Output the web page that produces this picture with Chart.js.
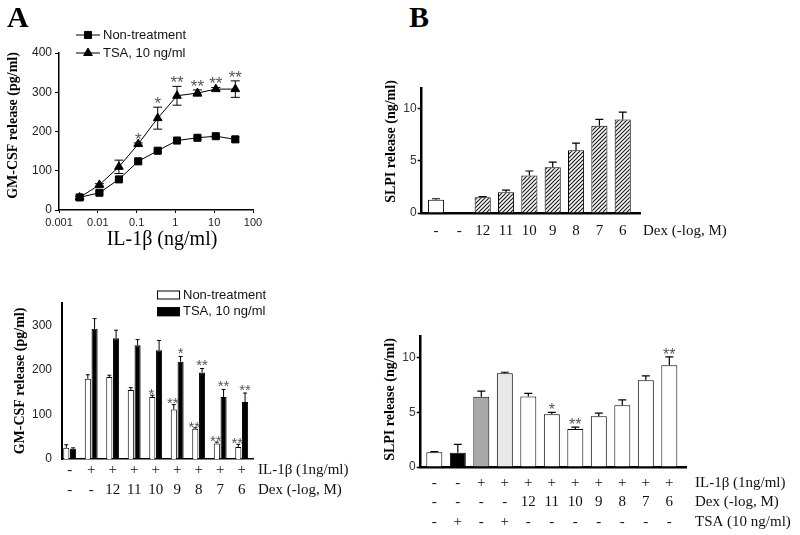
<!DOCTYPE html>
<html><head><meta charset="utf-8">
<script src="https://cdn.jsdelivr.net/npm/chart.js@4.4.1/dist/chart.umd.min.js"></script>
<style>
html,body{margin:0;padding:0;background:#fff;}
#wrap{position:relative;width:800px;height:535px;overflow:hidden;background:#fff;}
canvas{position:absolute;}
.letter{position:absolute;font-family:"Liberation Serif","Times New Roman",serif;font-weight:bold;font-size:30px;line-height:1;color:#000;}
</style></head><body>
<div id="wrap">
<canvas id="c1" width="275" height="255" style="left:0px;top:0px"></canvas>
<canvas id="c2" width="370" height="230" style="left:0px;top:280px"></canvas>
<canvas id="c3" width="365" height="190" style="left:375px;top:60px"></canvas>
<canvas id="c4" width="425" height="225" style="left:375px;top:310px"></canvas>
<div class="letter" style="left:7px;top:2px">A</div>
<div class="letter" style="left:409px;top:2px">B</div>
</div>
<script>
// ---------- DATA ----------
// Panel A (top): GM-CSF release vs IL-1β dose
const doseIL1b = [0.0034, 0.011, 0.035, 0.11, 0.35, 1.1, 3.7, 11, 35];
const doseTicks = [0.001, 0.01, 0.1, 1, 10, 100];
const gmcsfNon = [32, 44, 78, 124, 151, 177, 184, 188, 180];
const gmcsfNonErr = [3, 4, 4, 4, 3, 6, 4, 3, 6];
const gmcsfTSA = [32, 64, 110, 168, 234, 291, 298, 308, 308];
const gmcsfTSAErr = [3, 3, 17, 3, 28, 24, 8, 4, 21];
const gmcsfTSASig = ['', '', '', '*', '*', '**', '**', '**', '**'];

// Panel A (bottom): GM-CSF release, IL-1β + Dex
const rowIL1bA = ['-', '+', '+', '+', '+', '+', '+', '+', '+'];
const rowDexA = ['-', '-', '12', '11', '10', '9', '8', '7', '6'];
const gmNon = [25, 180, 184, 155, 139, 111, 68, 35, 27];
const gmNonErr = [7, 9, 4, 5, 4, 11, 2, 3, 6];
const gmNonSig = ['', '', '', '', '*', '**', '**', '**', '**'];
const gmTSA = [23, 292, 271, 255, 244, 218, 194, 139, 128];
const gmTSAErr = [2, 23, 18, 13, 22, 12, 9, 17, 20];
const gmTSASig = ['', '', '', '', '', '*', '**', '**', '**'];

// Panel B (top): SLPI release, Dex alone
const rowDexB1 = ['-', '-', '12', '11', '10', '9', '8', '7', '6'];
const slpiDex = [1.27, null, 1.52, 2.0, 3.6, 4.4, 6.03, 8.38, 8.98];
const slpiDexErr = [0.1, null, 0.05, 0.2, 0.43, 0.48, 0.67, 0.6, 0.7];

// Panel B (bottom): SLPI release, IL-1β / Dex / TSA
const rowIL1bB2 = ['-', '-', '+', '+', '+', '+', '+', '+', '+', '+', '+'];
const rowDexB2 = ['-', '-', '-', '-', '12', '11', '10', '9', '8', '7', '6'];
const rowTSAB2 = ['-', '+', '-', '+', '-', '-', '-', '-', '-', '-', '-'];
const slpiIL = [1.35, 1.3, 6.43, 8.58, 6.46, 4.83, 3.48, 4.65, 5.66, 7.94, 9.32];
const slpiILErr = [0.05, 0.77, 0.52, 0.1, 0.28, 0.18, 0.18, 0.28, 0.49, 0.4, 0.77];
const slpiILSig = ['', '', '', '', '', '*', '**', '', '', '', '**'];

// ---------- STYLE ----------
const SANS = '"Liberation Sans", Arial, sans-serif';
const SERIF = '"Liberation Serif", "Times New Roman", serif';
const slpiILColors = ['#ffffff', '#000000', '#a8a8a8', '#e8e8e8', '#ffffff', '#ffffff', '#ffffff', '#ffffff', '#ffffff', '#ffffff', '#ffffff'];
Chart.defaults.font.family = SANS;
Chart.defaults.color = '#222';
Chart.defaults.animation = false;

function hatchPattern() {
  const c = document.createElement('canvas'); c.width = 4; c.height = 4;
  const g = c.getContext('2d');
  g.fillStyle = '#fff'; g.fillRect(0, 0, 4, 4);
  g.strokeStyle = '#1a1a1a'; g.lineWidth = 1.2;
  g.beginPath();
  g.moveTo(0, 4); g.lineTo(4, 0);
  g.moveTo(-1, 1); g.lineTo(1, -1);
  g.moveTo(3, 5); g.lineTo(5, 3);
  g.stroke();
  return g.createPattern(c, 'repeat');
}
const HATCH = hatchPattern();

const yv = d => (d !== null && typeof d === 'object') ? d.y : d;

const extras = {
  id: 'extras',
  afterDatasetsDraw(chart, args, o) {
    const ctx = chart.ctx, ys = chart.scales.y;
    (o.errors || []).forEach(e => {
      const meta = chart.getDatasetMeta(e.ds), ds = chart.data.datasets[e.ds];
      ctx.save();
      ctx.strokeStyle = '#000'; ctx.lineWidth = e.lw || 1;
      meta.data.forEach((el, i) => {
        const v = yv(ds.data[i]), er = e.err[i];
        if (v == null || er == null || er <= 0) return;
        const x = el.x, top = ys.getPixelForValue(v + er);
        const base = e.both ? ys.getPixelForValue(v - er) : ys.getPixelForValue(v);
        ctx.beginPath();
        ctx.moveTo(x, base); ctx.lineTo(x, top);
        ctx.moveTo(x - e.cap / 2, top); ctx.lineTo(x + e.cap / 2, top);
        if (e.both) { ctx.moveTo(x - e.cap / 2, base); ctx.lineTo(x + e.cap / 2, base); }
        ctx.stroke();
      });
      ctx.restore();
    });
  },
  afterDraw(chart, args, o) {
    const ctx = chart.ctx, ca = chart.chartArea, xs = chart.scales.x, ys = chart.scales.y;
    ctx.save();
    (o.sig || []).forEach(s => {
      const meta = chart.getDatasetMeta(s.ds), ds = chart.data.datasets[s.ds];
      ctx.font = s.size + 'px ' + SANS; ctx.fillStyle = s.color || '#555';
      ctx.textAlign = 'center'; ctx.textBaseline = 'alphabetic';
      s.marks.forEach((m, i) => {
        if (!m) return;
        const v = yv(ds.data[i]);
        const top = ys.getPixelForValue(v + (s.err ? (s.err[i] || 0) : 0));
        ctx.fillText(m, meta.data[i].x + (s.dx || 0), top - s.gap + 0.58 * s.size);
      });
    });
    if (o.rows) {
      ctx.font = o.rows.size + 'px ' + SERIF; ctx.fillStyle = '#111'; ctx.textBaseline = 'middle';
      o.rows.items.forEach(r => {
        const y = ca.bottom + r.dy;
        ctx.textAlign = 'center';
        r.values.forEach((t, i) => ctx.fillText(t, xs.getPixelForValue(i), y));
        ctx.textAlign = 'left';
        ctx.fillText(r.label, ca.right + o.rows.labelDx, y);
      });
    }
    if (o.yTitle) {
      const t = o.yTitle;
      ctx.save();
      ctx.translate(t.x, (ca.top + ca.bottom) / 2 + (t.dy || 0));
      ctx.rotate(-Math.PI / 2);
      ctx.font = 'bold ' + t.size + 'px ' + SERIF; ctx.fillStyle = '#000';
      ctx.textAlign = 'center'; ctx.textBaseline = 'middle';
      ctx.fillText(t.text, 0, 0);
      ctx.restore();
    }
    if (o.xTitle) {
      const t = o.xTitle;
      ctx.font = t.size + 'px ' + SERIF; ctx.fillStyle = '#000';
      ctx.textAlign = 'center'; ctx.textBaseline = 'middle';
      ctx.fillText(t.text, (ca.left + ca.right) / 2 + (t.dx || 0), ca.bottom + t.dy);
    }
    if (o.legend) {
      const L = o.legend;
      chart.data.datasets.forEach((ds, i) => {
        const y = L.y + i * L.step;
        if (L.type === 'line') {
          ctx.strokeStyle = '#000'; ctx.lineWidth = 1;
          ctx.beginPath(); ctx.moveTo(L.x, y); ctx.lineTo(L.x + L.w, y); ctx.stroke();
          ctx.fillStyle = '#000';
          Chart.helpers.drawPoint(ctx, {pointStyle: ds.pointStyle, radius: ds.pointRadius, borderWidth: 1, rotation: 0}, L.x + L.w / 2, y);
        } else {
          ctx.fillStyle = ds.backgroundColor; ctx.strokeStyle = '#000'; ctx.lineWidth = 1;
          ctx.fillRect(L.x, y - L.h / 2, L.w, L.h);
          ctx.strokeRect(L.x + 0.5, y - L.h / 2 + 0.5, L.w - 1, L.h - 1);
        }
        ctx.font = L.size + 'px ' + SANS; ctx.fillStyle = '#111';
        ctx.textAlign = 'left'; ctx.textBaseline = 'middle';
        ctx.fillText(ds.label, L.x + L.w + L.gap, y);
      });
    }
    ctx.restore();
  }
};

const baseOpts = (pad) => ({
  responsive: false, animation: false,
  layout: {padding: pad},
  plugins: {legend: {display: false}, tooltip: {enabled: false}}
});
const noTickX = (min, max, h, bw) => ({
  type: 'linear', min, max, offset: false,
  afterFit: s => { s.height = h; },
  ticks: {display: false},
  grid: {display: false, drawTicks: false},
  border: {display: true, color: '#000', width: bw}
});

// ---------- Panel A top ----------
const o1 = baseOpts({left: 0, top: 53, right: 22, bottom: 0});
o1.plugins.extras = {
  errors: [{ds: 0, err: gmcsfNonErr, both: true, cap: 8}, {ds: 1, err: gmcsfTSAErr, both: true, cap: 9}],
  sig: [{ds: 1, marks: gmcsfTSASig, err: gmcsfTSAErr, gap: 8, size: 17, color: '#555'}],
  yTitle: {text: 'GM-CSF release (pg/ml)', x: 13, dy: -6, size: 14},
  xTitle: {text: 'IL-1β (ng/ml)', dx: 6, dy: 30, size: 20},
  legend: {type: 'line', x: 76, y: 35, step: 18, w: 24, gap: 3, size: 13}
};
o1.scales = {
  x: {
    type: 'logarithmic', min: 0.001, max: 100,
    afterBuildTicks: s => { s.ticks = doseTicks.map(v => ({value: v})); },
    afterFit: s => { s.height = 45; },
    ticks: {callback: v => String(v), font: {size: 11}, color: '#222', padding: 3, maxRotation: 0, autoSkip: false},
    grid: {display: true, drawOnChartArea: false, drawTicks: true, tickLength: 3, tickColor: '#000'},
    border: {color: '#000', width: 1.5}
  },
  y: {
    min: 0, max: 400,
    afterFit: s => { s.width = 59; },
    ticks: {stepSize: 100, font: {size: 12}, color: '#222', padding: 3},
    grid: {display: true, drawOnChartArea: false, drawTicks: true, tickLength: 4, tickColor: '#000'},
    border: {color: '#000', width: 1.5}
  }
};
new Chart(document.getElementById('c1'), {
  type: 'line',
  data: {datasets: [
    {label: 'Non-treatment', data: doseIL1b.map((x, i) => ({x, y: gmcsfNon[i]})),
     borderColor: '#000', backgroundColor: '#000', borderWidth: 1, pointStyle: 'rect', pointRadius: 5, pointBorderWidth: 1, tension: 0},
    {label: 'TSA, 10 ng/ml', data: doseIL1b.map((x, i) => ({x, y: gmcsfTSA[i]})),
     borderColor: '#000', backgroundColor: '#000', borderWidth: 1, pointStyle: 'triangle', pointRadius: 5, pointBorderWidth: 1, tension: 0}
  ]},
  options: o1,
  plugins: [extras]
});

// ---------- Panel A bottom ----------
const o2 = baseOpts({left: 0, top: 23, right: 117, bottom: 51});
o2.datasets = {bar: {categoryPercentage: 0.63, barPercentage: 0.9}};
o2.plugins.extras = {
  errors: [{ds: 0, err: gmNonErr, cap: 4}, {ds: 1, err: gmTSAErr, cap: 4}],
  sig: [
    {ds: 0, marks: gmNonSig, err: gmNonErr, gap: 5, size: 15, color: '#555', dx: -1},
    {ds: 1, marks: gmTSASig, err: gmTSAErr, gap: 7, size: 15, color: '#555'}
  ],
  rows: {size: 15, labelDx: 5, items: [
    {values: rowIL1bA, label: 'IL-1β (1ng/ml)', dy: 11},
    {values: rowDexA, label: 'Dex (-log, M)', dy: 31}
  ]},
  yTitle: {text: 'GM-CSF release (pg/ml)', x: 20.7, dy: 0, size: 14},
  legend: {type: 'box', x: 157, y: 15, step: 16.7, w: 23, h: 9, gap: 3, size: 13}
};
o2.scales = {
  x: noTickX(-0.358, 8.526, 0, 1.5),
  y: {
    min: 0, max: 350,
    afterBuildTicks: s => { s.ticks = s.ticks.filter(t => t.value % 100 === 0); },
    afterFit: s => { s.width = 62; },
    ticks: {stepSize: 100, font: {size: 12}, color: '#222', padding: 10},
    grid: {display: false, drawTicks: false},
    border: {color: '#000', width: 2}
  }
};
new Chart(document.getElementById('c2'), {
  type: 'bar',
  data: {datasets: [
    {label: 'Non-treatment', data: gmNon.map((y, i) => ({x: i, y})), backgroundColor: '#ffffff', borderColor: '#000', borderWidth: 1},
    {label: 'TSA, 10 ng/ml', data: gmTSA.map((y, i) => ({x: i, y})), backgroundColor: '#000000', borderColor: '#000', borderWidth: 1}
  ]},
  options: o2,
  plugins: [extras]
});

// ---------- Panel B top ----------
const o3 = baseOpts({left: 0, top: 28, right: 100, bottom: 37});
o3.datasets = {bar: {categoryPercentage: 1, barPercentage: 0.69}};
o3.plugins.extras = {
  errors: [{ds: 0, err: slpiDexErr, cap: 8, lw: 1.2}],
  rows: {size: 15, labelDx: 3, items: [{values: rowDexB1, label: 'Dex (-log, M)', dy: 18.4}]},
  yTitle: {text: 'SLPI release (ng/ml)', x: 16.7, dy: -9, size: 14}
};
o3.scales = {
  x: noTickX(-0.613, 8.74, 0, 2.5),
  y: {
    min: 0, max: 12,
    afterBuildTicks: s => { s.ticks = s.ticks.filter(t => t.value % 5 === 0); },
    afterFit: s => { s.width = 46.7; },
    ticks: {stepSize: 5, font: {size: 12}, color: '#333', padding: 1},
    grid: {display: true, drawOnChartArea: false, drawTicks: true, tickLength: 4, tickColor: '#000', tickWidth: 1.5},
    border: {color: '#000', width: 2.5}
  }
};
new Chart(document.getElementById('c3'), {
  type: 'bar',
  data: {datasets: [
    {label: 'SLPI', data: slpiDex.map((y, i) => ({x: i, y})),
     backgroundColor: slpiDex.map((v, i) => i === 0 ? '#ffffff' : HATCH), borderColor: '#000', borderWidth: 1}
  ]},
  options: o3,
  plugins: [extras]
});

// ---------- Panel B bottom ----------
const o4 = baseOpts({left: 0, top: 26, right: 114, bottom: 68});
o4.datasets = {bar: {categoryPercentage: 1, barPercentage: 0.68}};
o4.plugins.extras = {
  errors: [{ds: 0, err: slpiILErr, cap: 8, lw: 1.2}],
  sig: [{ds: 0, marks: slpiILSig, err: slpiILErr, gap: 6.5, size: 16, color: '#555'}],
  rows: {size: 15, labelDx: 9, items: [
    {values: rowIL1bB2, label: 'IL-1β (1ng/ml)', dy: 16},
    {values: rowDexB2, label: 'Dex (-log, M)', dy: 35},
    {values: rowTSAB2, label: 'TSA (10 ng/ml)', dy: 55}
  ]},
  yTitle: {text: 'SLPI release (ng/ml)', x: 15, dy: -2, size: 14}
};
o4.scales = {
  x: noTickX(-0.579, 10.71, 0, 2.5),
  y: {
    min: 0, max: 12,
    afterBuildTicks: s => { s.ticks = s.ticks.filter(t => t.value % 5 === 0); },
    afterFit: s => { s.width = 45.7; },
    ticks: {stepSize: 5, font: {size: 12}, color: '#333', padding: 1},
    grid: {display: true, drawOnChartArea: false, drawTicks: true, tickLength: 4, tickColor: '#000', tickWidth: 1.5},
    border: {color: '#000', width: 2.5}
  }
};
new Chart(document.getElementById('c4'), {
  type: 'bar',
  data: {datasets: [
    {label: 'SLPI', data: slpiIL.map((y, i) => ({x: i, y})),
     backgroundColor: slpiILColors, borderColor: '#000', borderWidth: 1}
  ]},
  options: o4,
  plugins: [extras]
});
</script>
</body></html>
